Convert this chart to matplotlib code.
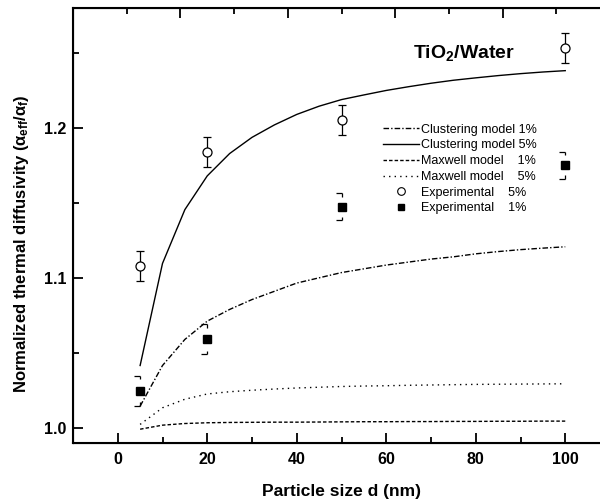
import numpy as np
import matplotlib
matplotlib.use("Agg")
import matplotlib.pyplot as plt
from matplotlib.ticker import FixedLocator, NullFormatter

plt.rcParams['font.family'] = ['Liberation Sans', 'DejaVu Sans']
plt.rcParams['mathtext.fontset'] = 'custom'
plt.rcParams['mathtext.rm'] = 'Liberation Sans:bold'
plt.rcParams['mathtext.it'] = 'Liberation Sans:bold'
plt.rcParams['mathtext.bf'] = 'Liberation Sans:bold'

# model curves, particle size d (nm)
d_model = [5, 10, 15, 20, 25, 30, 35, 40, 45, 50, 55, 60, 65, 70, 75, 80, 85, 90, 95, 100]
clust_1 = [1.0144, 1.0415, 1.0589, 1.0711, 1.0789, 1.0855, 1.0910, 1.0965, 1.1000, 1.1035,
           1.1060, 1.1085, 1.1105, 1.1125, 1.1140, 1.1160, 1.1175, 1.1188, 1.1198, 1.1207]
clust_5 = [1.0415, 1.1096, 1.1455, 1.1680, 1.1829, 1.1937, 1.2020, 1.2090, 1.2145, 1.2189,
           1.2220, 1.2250, 1.2275, 1.2298, 1.2318, 1.2334, 1.2349, 1.2362, 1.2373, 1.2382]
maxw_1 = [0.9990, 1.0017, 1.0028, 1.0033, 1.0035, 1.0036, 1.0037, 1.0037, 1.0038, 1.0039,
          1.0040, 1.0040, 1.0041, 1.0041, 1.0042, 1.0042, 1.0043, 1.0043, 1.0044, 1.0044]
maxw_5 = [1.0022, 1.0133, 1.0190, 1.0225, 1.0240, 1.0250, 1.0258, 1.0265, 1.0270, 1.0275,
          1.0278, 1.0280, 1.0283, 1.0285, 1.0287, 1.0289, 1.0290, 1.0291, 1.0292, 1.0293]

# experiments
d_exp = [5, 20, 50, 100]
exp_5 = [1.108, 1.1837, 1.2055, 1.253]
err_5 = [0.010, 0.010, 0.010, 0.010]
exp_1 = [1.0247, 1.0589, 1.1473, 1.1751]
err_1 = [0.010, 0.010, 0.009, 0.009]

fig = plt.figure(figsize=(6, 5.03), dpi=100)
ax = fig.add_axes([73 / 600, 60.3 / 503, 537 / 600, 434.7 / 503])

ax.plot(d_model, clust_1, color='black', lw=1.0, ls=(0, (4, 1.5, 1, 1.5)), label='Clustering model 1%')
ax.plot(d_model, clust_5, color='black', lw=1.0, ls='-', label='Clustering model 5%')
ax.plot(d_model, maxw_1, color='black', lw=1.0, ls=(0, (2.5, 1.5)), label='Maxwell model    1%')
ax.plot(d_model, maxw_5, color='black', lw=1.0, ls=(0, (1, 3)), label='Maxwell model    5%')

ax.errorbar(d_exp, exp_5, yerr=err_5, fmt='o', mfc='white', mec='black', mew=0.9, ms=6.5,
            ecolor='black', elinewidth=0.9, capsize=3, capthick=0.9, zorder=4)
ax.plot([], [], 'o', mfc='white', mec='black', mew=0.8, ms=5.5, label='Experimental    5%')

# filled squares with Origin style half caps
ax.plot(d_exp, exp_1, 's', color='black', ms=6, zorder=4)
x1 = np.array(d_exp, dtype=float)
y1 = np.array(exp_1)
e1 = np.array(err_1)
stub = 0.0025
cap = 1.3
ax.hlines(y1 + e1, x1 - cap, x1, color='black', lw=0.9)
ax.vlines(x1, y1 + e1 - stub, y1 + e1, color='black', lw=0.9)
ax.hlines(y1 - e1, x1 - cap, x1, color='black', lw=0.9)
ax.vlines(x1, y1 - e1, y1 - e1 + stub, color='black', lw=0.9)
ax.plot([], [], 's', color='black', ms=5, label='Experimental    1%')

ax.set_xlim(-10, 110)
ax.set_ylim(0.99, 1.28)
ax.xaxis.set_major_locator(FixedLocator([0, 20, 40, 60, 80, 100]))
ax.xaxis.set_minor_locator(FixedLocator([-10, 10, 30, 50, 70, 90]))
ax.yaxis.set_major_locator(FixedLocator([1.0, 1.1, 1.2]))
ax.yaxis.set_minor_locator(FixedLocator([1.05, 1.15, 1.25]))
ax.set_yticklabels(['1.0', '1.1', '1.2'])

ax.tick_params(which='both', direction='in', width=1.3, labelsize=11.5)
ax.tick_params(axis='x', pad=7)
ax.tick_params(axis='y', pad=4.5)
ax.tick_params(which='major', length=7)
ax.tick_params(which='minor', length=4)
for lab in ax.get_xticklabels() + ax.get_yticklabels():
    lab.set_fontweight('bold')
for sp in ax.spines.values():
    sp.set_linewidth(1.5)

top = ax.twiny()
top.set_xlim(ax.get_xlim())
top.xaxis.set_major_locator(FixedLocator([14, 38, 62, 86]))
top.xaxis.set_minor_locator(FixedLocator([2, 26, 50, 74, 98]))
top.xaxis.set_major_formatter(NullFormatter())
top.tick_params(which='both', direction='in', width=1.3)
top.tick_params(which='major', length=7)
top.tick_params(which='minor', length=4)

ax.set_xlabel('Particle size d (nm)', fontsize=12.5, fontweight='bold', labelpad=12)
ax.set_ylabel(r'Normalized thermal diffusivity ($\alpha_{eff}$/$\alpha_f$)', fontsize=12,
              fontweight='bold')
ax.yaxis.set_label_coords(-0.078, 0.457)

ax.text(0.6326, 0.884, r'TiO$_2$/Water', transform=ax.transAxes, fontsize=14,
        fontweight='bold', ha='left', va='baseline')

ax.legend(loc='upper left', bbox_to_anchor=(0.577, 0.734), frameon=False, fontsize=9,
          handlelength=2.9, handletextpad=0.15, labelspacing=0.3, borderpad=0,
          borderaxespad=0)

fig.savefig('out.png', dpi=100)
